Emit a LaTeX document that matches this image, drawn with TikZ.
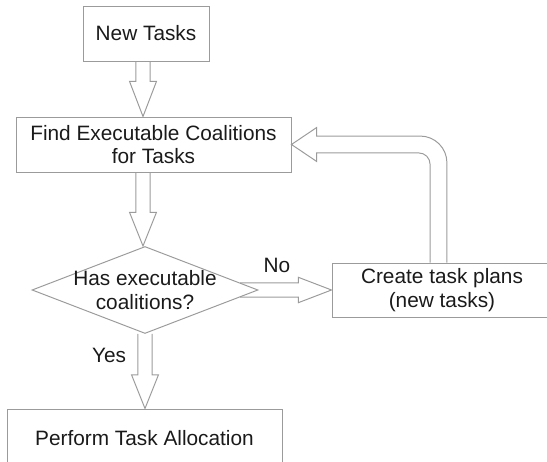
\documentclass[tikz,border=0pt]{standalone}
\usepackage{fontspec}
\setmainfont{Liberation Sans}
\usetikzlibrary{shapes.geometric,calc}
\definecolor{linea}{HTML}{9B9B9B}
\definecolor{tinta}{HTML}{1A1A1A}

\begin{document}
\begin{tikzpicture}[
    x=1cm,
    y=1cm,
    font=\fontsize{14.8}{16.8}\selectfont,
    block/.style={
        draw=linea,
        line width=0.7pt,
        text=tinta,
        minimum height=1.375cm,
        align=center
    },
    decision/.style={
        draw=linea,
        line width=0.7pt,
        diamond,
        inner sep=0pt,
        minimum width=5.65cm,
        minimum height=2.175cm
    },
    bigarrow/.style={
        draw=linea,
        line width=0.7pt,
        line join=miter
    },
    answer/.style={
        text=tinta
    }
]
    \path[use as bounding box, clip] (0,0) rectangle (13.675,11.55);

    \node[block, minimum width=3.15cm] (newtasks) at (3.65,10.7125)
        {New Tasks};
    \node[block, minimum width=6.875cm] (find) at (3.8375,7.9375)
        {Find Executable Coalitions\\for Tasks};
    \node[decision,
        label={[align=center,text=tinta]center:Has executable\\coalitions?}]
        (check) at (3.625,4.3) {};
    \node[block, minimum width=5.5cm, minimum height=1.35cm] (create) at (11.05,4.3)
        {Create task plans\\(new tasks)};
    \node[block, minimum width=6.875cm, minimum height=1.45cm] (perform) at (3.6125,0.6)
        {Perform Task Allocation};

    \node[answer] (yes) at (2.725,2.675) {Yes};
    \node[answer] (no) at (6.925,4.925) {No};

    % block arrows (half widths: shaft 5pt, head 9.6pt)
    \draw[bigarrow] let \p1=($(newtasks.south)+(-0.075,0)$), \p2=(find.north) in
        (\x1-5pt,\y1) -- (\x1-5pt,\y2+25pt) -- (\x1-9.6pt,\y2+25pt) -- (\x1,\y2)
        -- (\x1+9.6pt,\y2+25pt) -- (\x1+5pt,\y2+25pt) -- (\x1+5pt,\y1);
    \draw[bigarrow] let \p1=($(find.south)+(-0.2625,0)$), \p2=(check.north) in
        (\x1-5pt,\y1) -- (\x1-5pt,\y2+24pt) -- (\x1-9.6pt,\y2+24pt) -- (\x1,\y2)
        -- (\x1+9.6pt,\y2+24pt) -- (\x1+5pt,\y2+24pt) -- (\x1+5pt,\y1);
    \draw[bigarrow] let \p1=(check.south), \p2=(perform.north) in
        (\x1-5pt,\y1) -- (\x1-5pt,\y2+24pt) -- (\x1-9.6pt,\y2+24pt) -- (\x1,\y2)
        -- (\x1+9.6pt,\y2+24pt) -- (\x1+5pt,\y2+24pt) -- (\x1+5pt,\y1);
    \draw[bigarrow] let \p1=($(check.east)+(-0.457,0)$), \p2=(create.west) in
        (\x1,\y1+5pt) -- (\x2-23.5pt,\y1+5pt) -- (\x2-23.5pt,\y1+9pt) -- (\x2,\y2)
        -- (\x2-23.5pt,\y1-9pt) -- (\x2-23.5pt,\y1-5pt) -- (\x1,\y1-5pt);

    % loop back to the search step
    \draw[bigarrow] let \p1=($(create.north)+(-2.5pt,0)$), \p2=(find.east) in
        (\x1+6pt,\y1) -- (\x1+6pt,\y2-13pt) arc[start angle=0,end angle=90,radius=19pt]
        -- (\x2+17.8pt,\y2+6pt) -- (\x2+17.8pt,\y2+12pt) -- (\x2,\y2)
        -- (\x2+17.8pt,\y2-12pt) -- (\x2+17.8pt,\y2-6pt) -- (\x1-14pt,\y2-6pt)
        arc[start angle=90,end angle=0,radius=8pt] -- (\x1-6pt,\y1);
\end{tikzpicture}
\end{document}
